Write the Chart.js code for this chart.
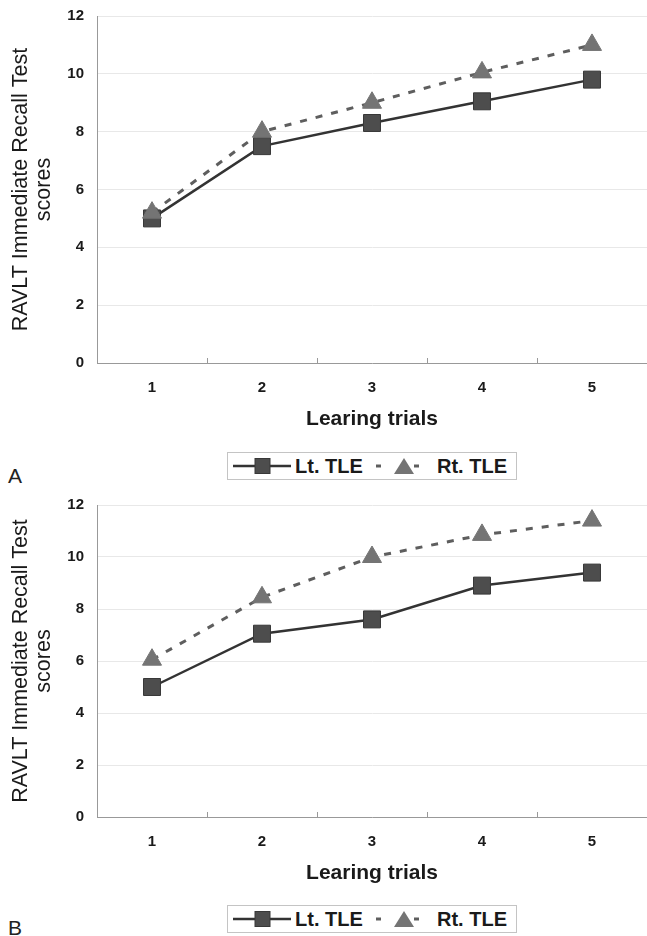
<!DOCTYPE html>
<html>
<head>
<meta charset="utf-8">
<script src="https://cdn.jsdelivr.net/npm/chart.js@4.4.1/dist/chart.umd.min.js"></script>
<style>
  body { margin: 0; background: #fff; font-family: 'Liberation Sans', Arial, sans-serif; }
  #page { position: relative; width: 647px; height: 936px; overflow: hidden; }
  canvas { position: absolute; left: 0; }
  .legend { position: absolute; left: 227px; width: 290px; height: 28px; box-sizing: border-box;
            border: 1px solid #c4c4c4; background: #fff; }
  .legend svg, .legend span { position: absolute; }
  .legend span { font-weight: bold; font-size: 20px; color: #1a1a1a; line-height: 26px; top: 0; }
  .panel { position: absolute; left: 8px; font-size: 21px; line-height: 21px; color: #222; }
</style>
</head>
<body>
<div id="page">
  <canvas id="chartA" width="647" height="432" style="top:0"></canvas>
  <div class="legend" id="legendA" style="top:452px"></div>
  <div class="panel" style="top:465px">A</div>

  <canvas id="chartB" width="647" height="397" style="top:489px"></canvas>
  <div class="legend" id="legendB" style="top:905px"></div>
  <div class="panel" style="top:917px">B</div>
</div>
<script>
const trials = ['1', '2', '3', '4', '5'];
const seriesNames = ['Lt. TLE', 'Rt. TLE'];

// panel A
const ltA = [5.0, 7.5, 8.3, 9.05, 9.8];
const rtA = [5.2, 8.0, 9.0, 10.05, 11.0];

// panel B
const ltB = [5.0, 7.05, 7.6, 8.9, 9.4];
const rtB = [6.05, 8.45, 10.0, 10.85, 11.4];

const yTitle = ['RAVLT Immediate Recall Test', 'scores'];
const xTitle = 'Learing trials';

Chart.defaults.font.family = "'Liberation Sans', Arial, sans-serif";
Chart.defaults.color = '#1a1a1a';

// fixed axis sizes so both panels line up with the picture
function noPad(s) {
  s.paddingTop = 0; s.paddingBottom = 0; s.paddingLeft = 0; s.paddingRight = 0;
}

function makeChart(id, lt, rt) {
  return new Chart(id, {
    type: 'line',
    data: {
      labels: trials,
      datasets: [{
        label: seriesNames[0],
        data: lt,
        borderColor: '#333',
        borderWidth: 2.5,
        pointStyle: 'rect',
        pointRadius: 12,
        pointBackgroundColor: '#4d4d4d',
        pointBorderColor: '#383838',
        pointBorderWidth: 1,
        tension: 0,
        order: 2
      }, {
        label: seriesNames[1],
        data: rt,
        borderColor: '#5e5e5e',
        borderWidth: 3,
        borderDash: [7, 9],
        pointStyle: 'triangle',
        pointRadius: 11,
        pointBackgroundColor: '#747474',
        pointBorderColor: '#747474',
        pointBorderWidth: 1,
        tension: 0,
        order: 1
      }]
    },
    options: {
      responsive: false,
      animation: false,
      layout: { autoPadding: false, padding: { top: 16, right: 0, left: 0, bottom: 0 } },
      plugins: { legend: { display: false }, tooltip: { enabled: false } },
      scales: {
        x: {
          offset: true,
          afterFit: s => { s.height = 69; noPad(s); },
          grid: { offset: true, drawOnChartArea: false, tickLength: -5, tickColor: '#999' },
          border: { color: '#999', width: 1 },
          ticks: { padding: 21, font: { size: 15, weight: 'bold' } },
          title: { display: true, text: xTitle, font: { size: 21, weight: 'bold' },
                   padding: { top: 11, bottom: 0 } }
        },
        y: {
          min: 0,
          max: 12,
          afterFit: s => { s.width = 97; noPad(s); },
          grid: { color: '#e8e8e8', drawTicks: false },
          border: { color: '#999', width: 1 },
          ticks: { stepSize: 2, padding: 13, font: { size: 15, weight: 'bold' } },
          title: { display: true, text: yTitle, font: { size: 21.5, lineHeight: 1.05 },
                   padding: { top: 10, bottom: 0 } }
        }
      }
    }
  });
}

function fillLegend(elId) {
  const el = document.getElementById(elId);
  el.innerHTML =
    '<svg style="left:5px;top:0" width="58" height="26">' +
      '<line x1="0" y1="13" x2="58" y2="13" stroke="#333" stroke-width="2.5"/>' +
      '<rect x="22" y="5.5" width="15" height="15" fill="#4d4d4d" stroke="#383838"/>' +
    '</svg>' +
    '<span style="left:67px">' + seriesNames[0] + '</span>' +
    '<svg style="left:146px;top:0" width="46" height="26">' +
      '<line x1="2" y1="13" x2="7" y2="13" stroke="#5e5e5e" stroke-width="3"/>' +
      '<polygon points="30,5 40,21 20,21" fill="#747474"/>' +
      '<line x1="40" y1="13" x2="45" y2="13" stroke="#5e5e5e" stroke-width="3"/>' +
    '</svg>' +
    '<span style="left:209px">' + seriesNames[1] + '</span>';
}

makeChart('chartA', ltA, rtA);
makeChart('chartB', ltB, rtB);
fillLegend('legendA');
fillLegend('legendB');
</script>
</body>
</html>
